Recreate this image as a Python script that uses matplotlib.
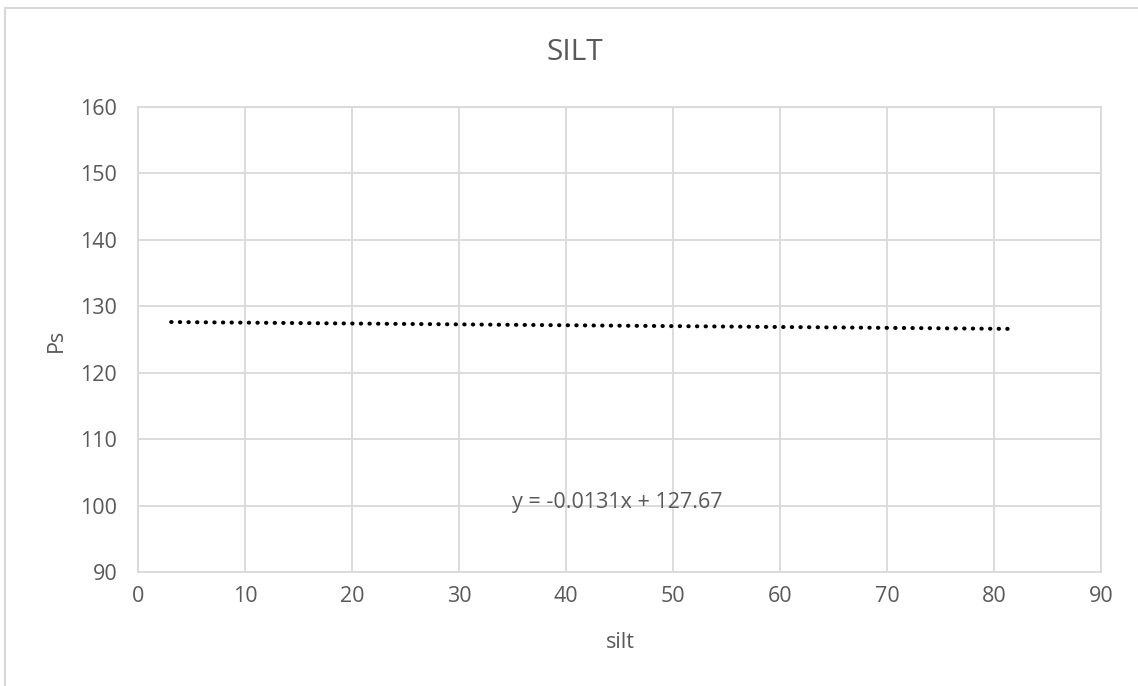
import numpy as np
import matplotlib.pyplot as plt
from matplotlib.patches import Rectangle

plt.rcParams["font.family"] = ["Open Sans", "DejaVu Sans"]

# Linear trend of Ps against silt
slope = -0.0131
intercept = 127.67
silt_range = [3.1, 81.3]
x_ticks = [0, 10, 20, 30, 40, 50, 60, 70, 80, 90]
y_ticks = [90, 100, 110, 120, 130, 140, 150, 160]

grey = "#595959"
grid = "#d9d9d9"
W, H = 1138, 686

fig = plt.figure(figsize=(W / 100, H / 100), dpi=100)
ax = fig.add_axes([138 / W, 1 - 572 / H, (1101 - 138) / W, (572 - 107) / H])

# Outer chart frame (runs off the right and bottom edges)
fig.patches.append(Rectangle((5 / W, -0.1), 1.2, 1 - 8 / H + 0.1,
                             transform=fig.transFigure, fill=False,
                             edgecolor=grid, linewidth=1.5))

x = np.array(silt_range)
y = slope * x + intercept
ax.plot(x, y, color="black", linestyle=(0, (0.1, 2.04)), linewidth=2.9,
        dash_capstyle="round")

ax.set_xlim(0, 90)
ax.set_ylim(90, 160)
ax.set_xticks(x_ticks)
ax.set_yticks(y_ticks)
ax.grid(True, color=grid, linewidth=1.3)
ax.set_axisbelow(True)
for s in ax.spines.values():
    s.set_color(grid)
    s.set_linewidth(1.3)
ax.tick_params(length=0, colors=grey, labelsize=15.5)
ax.tick_params(axis="y", pad=15)
ax.tick_params(axis="x", pad=10)

ax.text(35.0, 100.4, "y = -0.0131x + 127.67", color=grey, fontsize=15.5,
        va="center", ha="left")

fig.text(575 / W, 1 - 52 / H, "SILT", color=grey, fontsize=21.5,
         ha="center", va="center")
fig.text(620 / W, 1 - 643 / H, "silt", color=grey, fontsize=15.5,
         ha="center", va="center")
fig.text(56 / W, 1 - 340 / H, "Ps", color=grey, fontsize=15.5,
         ha="center", va="center", rotation=90)

fig.savefig("out.png", dpi=100)
